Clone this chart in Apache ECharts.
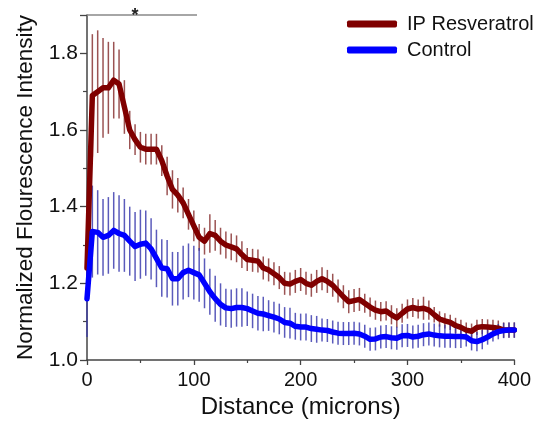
<!DOCTYPE html>
<html>
<head>
<meta charset="utf-8">
<script src="https://cdn.jsdelivr.net/npm/echarts@6/dist/echarts.min.js"></script>
<style>
html,body{margin:0;padding:0;background:#fff;}
#chart{width:534px;height:426px;}
</style>
</head>
<body>
<div id="chart"></div>
<script>
// Distance (microns), sampled every 5
const distance = [];
for (let d = 0; d <= 400; d += 5) distance.push(d);

const resveratrol = [
1.24,1.69,1.70,1.71,1.71,1.73,1.72,1.66,1.60,1.575,
1.555,1.55,1.55,1.55,1.52,1.48,1.445,1.43,1.41,1.38,
1.35,1.32,1.31,1.33,1.325,1.31,1.30,1.295,1.29,1.275,
1.262,1.26,1.258,1.24,1.235,1.225,1.215,1.20,1.198,1.205,
1.21,1.20,1.195,1.205,1.212,1.205,1.195,1.18,1.165,1.152,
1.155,1.158,1.148,1.138,1.13,1.126,1.128,1.118,1.11,1.122,
1.133,1.137,1.133,1.135,1.13,1.118,1.107,1.102,1.098,1.09,
1.085,1.078,1.075,1.085,1.087,1.086,1.085,1.083,1.078,1.078,1.078
];
const resveratrolErr = [
0.06,0.16,0.16,0.13,0.12,0.10,0.09,0.07,0.05,0.04,
0.04,0.04,0.04,0.04,0.04,0.05,0.05,0.045,0.04,0.04,
0.04,0.035,0.035,0.05,0.04,0.035,0.035,0.035,0.035,0.035,
0.03,0.03,0.03,0.03,0.03,0.03,0.03,0.03,0.03,0.03,
0.03,0.03,0.03,0.03,0.03,0.03,0.03,0.03,0.03,0.03,
0.03,0.03,0.025,0.025,0.025,0.025,0.025,0.025,0.025,0.025,
0.025,0.025,0.025,0.03,0.025,0.02,0.02,0.02,0.02,0.02,
0.02,0.02,0.02,0.02,0.02,0.02,0.02,0.02,0.02,0.02,0.02
];
const control = [
1.16,1.335,1.333,1.32,1.325,1.338,1.33,1.325,1.31,1.296,
1.302,1.305,1.29,1.265,1.24,1.238,1.212,1.212,1.228,1.234,
1.228,1.222,1.20,1.178,1.16,1.145,1.136,1.134,1.137,1.137,
1.134,1.128,1.122,1.12,1.116,1.112,1.107,1.098,1.096,1.088,
1.086,1.086,1.082,1.08,1.078,1.077,1.073,1.07,1.069,1.069,
1.07,1.068,1.062,1.054,1.055,1.06,1.061,1.058,1.057,1.063,
1.064,1.06,1.062,1.066,1.068,1.065,1.063,1.062,1.062,1.061,
1.061,1.06,1.05,1.048,1.053,1.06,1.068,1.074,1.077,1.078,1.078
];
const controlErr = [
0.10,0.12,0.11,0.10,0.10,0.10,0.10,0.095,0.09,0.09,
0.09,0.085,0.08,0.075,0.075,0.075,0.07,0.07,0.07,0.07,
0.07,0.07,0.065,0.06,0.06,0.055,0.05,0.05,0.05,0.05,
0.045,0.045,0.045,0.045,0.04,0.04,0.04,0.04,0.04,0.035,
0.035,0.035,0.035,0.035,0.03,0.03,0.03,0.03,0.03,0.03,
0.03,0.03,0.03,0.03,0.03,0.03,0.03,0.03,0.03,0.03,
0.03,0.03,0.03,0.03,0.03,0.03,0.03,0.03,0.03,0.03,
0.03,0.025,0.025,0.025,0.025,0.02,0.02,0.02,0.02,0.02,0.02
];
const seriesNames = ['IP Resveratrol', 'Control'];
const xTicks = [0, 100, 200, 300, 400];
const yTicks = [1.0, 1.2, 1.4, 1.6, 1.8];
const significance = { from: 0, to: 103, level: 1.9, starAt: 45, text: '*' };

const FONT = "'Liberation Sans', Arial, Helvetica, sans-serif";

function errBars(name, vals, errs, color) {
  return {
    type: 'custom',
    name: name,
    silent: true,
    clip: false,
    renderItem: function (params, api) {
      const x = api.value(0), y = api.value(1), e = api.value(2);
      const hi = api.coord([x, y + e]);
      const lo = api.coord([x, y - e]);
      return {
        type: 'line',
        shape: { x1: hi[0], y1: hi[1], x2: lo[0], y2: lo[1] },
        style: { stroke: color, lineWidth: 1.5 }
      };
    },
    data: distance.map((d, i) => [d, vals[i], errs[i]])
  };
}

const chart = echarts.init(document.getElementById('chart'), null, { renderer: 'canvas' });
chart.setOption({
  animation: false,
  backgroundColor: '#fff',
  textStyle: { fontFamily: FONT },
  grid: { left: 87, right: 19, top: 15, bottom: 66 },
  legend: {
    data: seriesNames,
    orient: 'vertical',
    left: 347,
    top: 14,
    padding: 0,
    itemGap: 6,
    itemWidth: 50,
    itemHeight: 7,
    icon: 'roundRect',
    textStyle: { fontFamily: FONT, fontSize: 20, color: '#111', padding: [0, 0, 0, 5] }
  },
  xAxis: {
    type: 'value',
    min: 0, max: 400, interval: 100,
    name: 'Distance (microns)',
    nameLocation: 'middle',
    nameGap: 35,
    nameTextStyle: { fontFamily: FONT, fontSize: 24, color: '#111' },
    axisLine: { lineStyle: { color: '#444', width: 1.5 } },
    axisTick: { show: true, length: 5, inside: false, lineStyle: { color: '#444', width: 1.3 } },
    minorTick: { show: true, splitNumber: 2, length: 3, lineStyle: { color: '#444', width: 1.2 } },
    splitLine: { show: false },
    axisLabel: {
      fontFamily: FONT, fontSize: 20, color: '#111', margin: 10,
      formatter: v => xTicks.indexOf(v) >= 0 ? String(v) : ''
    }
  },
  yAxis: {
    type: 'value',
    min: 1.0, max: 1.9, interval: 0.2,
    name: 'Normalized Flourescence Intensity',
    nameLocation: 'middle',
    nameGap: 50,
    nameTextStyle: { fontFamily: FONT, fontSize: 22.5, color: '#111' },
    axisLine: { show: true, lineStyle: { color: '#444', width: 1.5 } },
    axisTick: { show: true, length: 7, lineStyle: { color: '#444', width: 1.3 } },
    minorTick: { show: true, splitNumber: 2, length: 4, lineStyle: { color: '#444', width: 1.2 } },
    splitLine: { show: false },
    axisLabel: {
      fontFamily: FONT, fontSize: 21, color: '#111', margin: 9,
      showMaxLabel: false,
      formatter: v => {
        const t = yTicks.find(k => Math.abs(k - v) < 1e-6);
        return t === undefined ? '' : t.toFixed(1);
      }
    }
  },
  series: [
    errBars('resErr', resveratrol, resveratrolErr, 'rgba(130,40,40,0.8)'),
    {
      type: 'line',
      name: seriesNames[0],
      data: distance.map((d, i) => [d, resveratrol[i]]),
      showSymbol: false,
      symbol: 'none',
      color: '#800000',
      lineStyle: { color: '#800000', width: 5.5, join: 'round', cap: 'round' },
      markLine: {
        silent: true,
        symbol: 'none',
        lineStyle: { color: '#888', width: 1.5, type: 'solid' },
        label: { show: false },
        data: [[{ coord: [significance.from, significance.level] }, { coord: [significance.to, significance.level] }]]
      },
      markPoint: {
        silent: true,
        symbol: 'circle',
        symbolSize: 0,
        data: [{ coord: [significance.starAt, significance.level] }],
        label: {
          show: true, position: 'inside', offset: [0, 1],
          formatter: significance.text,
          fontFamily: FONT, fontSize: 18, fontWeight: 'bold', color: '#222'
        }
      }
    },
    errBars('ctlErr', control, controlErr, 'rgba(50,50,170,0.8)'),
    {
      type: 'line',
      name: seriesNames[1],
      data: distance.map((d, i) => [d, control[i]]),
      showSymbol: false,
      symbol: 'none',
      color: '#0000ff',
      lineStyle: { color: '#0000ff', width: 5.5, join: 'round', cap: 'round' }
    }
  ]
});
</script>
</body>
</html>
